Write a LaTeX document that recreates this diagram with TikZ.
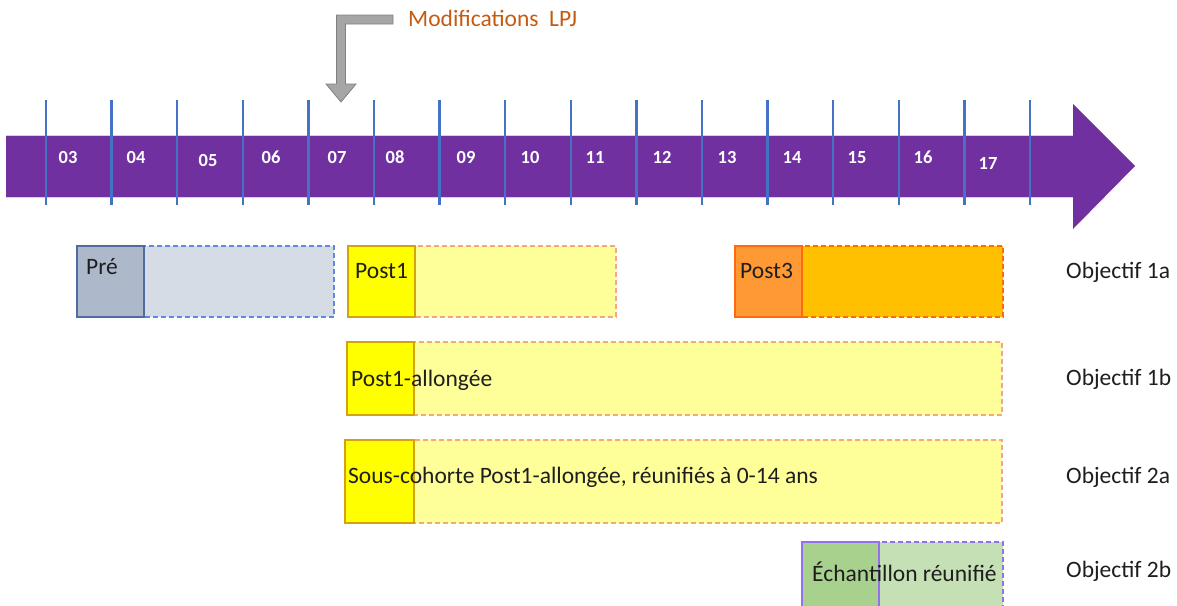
\documentclass[tikz,border=0pt]{standalone}
\usepackage{fontspec}
\setmainfont{Carlito}
\definecolor{tlpurple}{HTML}{7030A0}
\definecolor{tick}{HTML}{4472C4}
\definecolor{preD}{HTML}{ADB9CA}
\definecolor{preB}{HTML}{4F6C9F}
\definecolor{preL}{HTML}{D6DCE5}
\definecolor{preLB}{HTML}{5B8BD9}
\definecolor{ylD}{HTML}{FFFF00}
\definecolor{ylB}{HTML}{D4A20A}
\definecolor{ylL}{HTML}{FFFF99}
\definecolor{ylLB}{HTML}{F6A585}
\definecolor{orD}{HTML}{FF9933}
\definecolor{orB}{HTML}{FF6A10}
\definecolor{orL}{HTML}{FFC000}
\definecolor{grD}{HTML}{A9D18E}
\definecolor{grL}{HTML}{C5E0B4}
\definecolor{grB}{HTML}{9470F0}
\definecolor{note}{HTML}{C55A11}
\definecolor{txt}{HTML}{1E1E1E}
\begin{document}
\begin{tikzpicture}[x=1pt,y=-1pt,
  lbl/.style={anchor=base west,inner sep=0pt,text=txt,font=\fontsize{23.5}{27}\selectfont},
  yr/.style={anchor=base,inner sep=0pt,text=white,font=\bfseries\fontsize{18.5}{21}\selectfont},
  solidbox/.style={line width=1.3pt},
  dashbox/.style={line width=1.3pt,dash pattern=on 5pt off 3pt}]
\clip (0,0) rectangle (1177,605);

% timeline arrow
\fill[tlpurple] (6,135) -- (1073,135) -- (1073,104) -- (1135,166) -- (1073,229) -- (1073,197) -- (6,197) -- cycle;
\draw[white!70!tick,line width=0.8pt] (6,135) -- (1073,135) (6,197) -- (1073,197);
\foreach \i in {0,...,15}
  \draw[tick,line width=2.5pt] ({46+65.6*\i},100) -- ({46+65.6*\i},205);

% years
\foreach \lab/\x/\y in {03/68/163,04/136/163,05/208/166,06/271/163,07/337/163,08/395/163,09/466/163,10/530/163,11/595/163,12/662/163,13/727/163,14/792/163,15/857/163,16/923/163,17/988/169}
  \node[yr] (y\lab) at (\x,\y) {\lab};

% legal change marker
\node[anchor=base west,inner sep=0pt,text=note,font=\fontsize{23.5}{27}\selectfont] (lpj) at (408,26) {Modifications\ \ LPJ};
\filldraw[fill=black!35,draw=black!50,line width=0.8pt]
  (393,15) -- (336.5,15) -- (336.5,84) -- (326,84) -- (341,102) -- (356,84) -- (345.5,84) -- (345.5,24) -- (393,24) -- cycle;

% row 1
\draw[dashbox,draw=preLB,fill=preL] (144,246) rectangle (334,317);
\draw[solidbox,draw=preB,fill=preD] (77,246) rectangle (144,317);
\node[lbl] (pre) at (86,274) {Pré};
\draw[dashbox,draw=ylLB,fill=ylL] (415,246) rectangle (616,317);
\draw[solidbox,draw=ylB,fill=ylD] (348,246) rectangle (415,317);
\node[lbl] (post1) at (355,278) {Post1};
\draw[dashbox,draw=orB,fill=orL] (802,246) rectangle (1003,317);
\draw[solidbox,draw=orB,fill=orD] (735,246) rectangle (802,317);
\node[lbl] (post3) at (740,278) {Post3};
\node[lbl] (o1a) at (1066,278) {Objectif 1a};

% row 2
\draw[dashbox,draw=ylLB,fill=ylL] (414,342) rectangle (1002,415);
\draw[solidbox,draw=ylB,fill=ylD] (347,342) rectangle (414,415);
\node[lbl] (post1a) at (351,386) {Post1-allongée};
\node[lbl] (o1b) at (1066,385) {Objectif 1b};

% row 3
\draw[dashbox,draw=ylLB,fill=ylL] (414,440) rectangle (1002,523);
\draw[solidbox,draw=ylB,fill=ylD] (345,440) rectangle (414,523);
\node[lbl] (sous) at (348,483) {Sous-cohorte Post1-allongée, réunifiés à 0-14 ans};
\node[lbl] (o2a) at (1066,483) {Objectif 2a};

% row 4
\draw[dashbox,draw=grB,fill=grL] (879,542) rectangle (1003,610);
\draw[solidbox,draw=grB,fill=grD] (802,542) rectangle (879,610);
\node[lbl] (ech) at (812,581) {Échantillon réunifié};
\node[lbl] (o2b) at (1066,577) {Objectif 2b};
\end{tikzpicture}
\end{document}
